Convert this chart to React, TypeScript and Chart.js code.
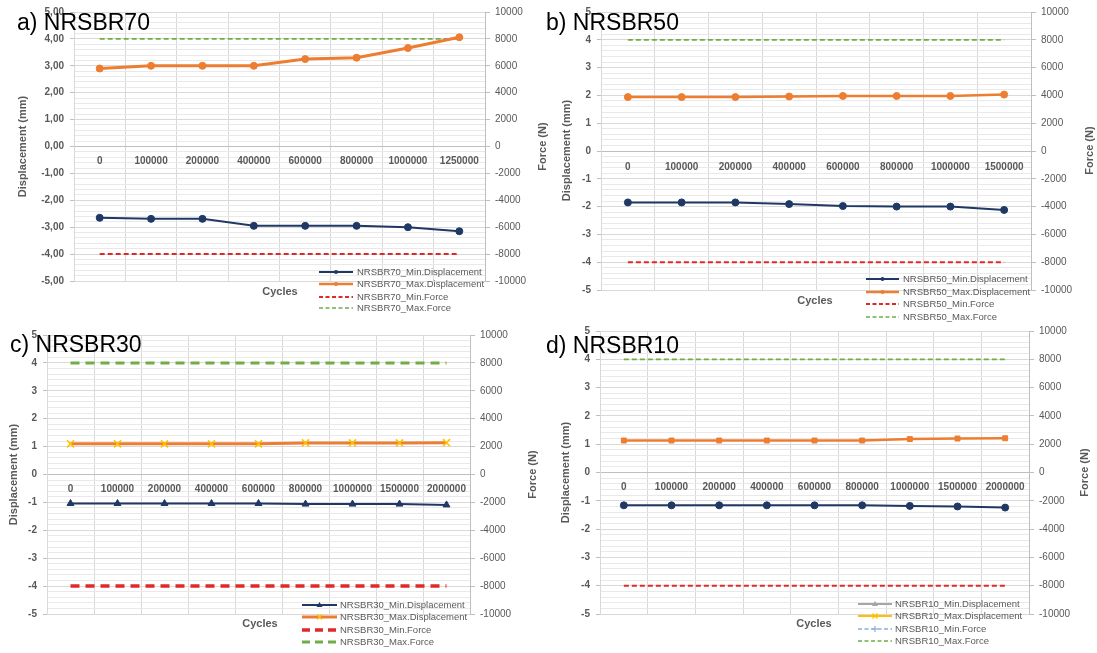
import React, { useEffect, useRef } from 'react';
import { Chart, registerables } from 'chart.js';

Chart.register(...registerables);

// ---------- DATA ----------
const cyclesA = ['0', '100000', '200000', '400000', '600000', '800000', '1000000', '1250000'];
const minDispA = [-2.65, -2.69, -2.69, -2.95, -2.95, -2.95, -3.0, -3.15];
const maxDispA = [2.9, 3.0, 3.0, 3.0, 3.25, 3.3, 3.66, 4.06];
const minForceA = [-8000, -8000, -8000, -8000, -8000, -8000, -8000, -8000];
const maxForceA = [8000, 8000, 8000, 8000, 8000, 8000, 8000, 8000];

const cyclesB = ['0', '100000', '200000', '400000', '600000', '800000', '1000000', '1500000'];
const minDispB = [-1.85, -1.85, -1.85, -1.91, -1.98, -2.0, -2.0, -2.12];
const maxDispB = [1.94, 1.94, 1.94, 1.96, 1.98, 1.98, 1.98, 2.03];
const minForceB = [-8000, -8000, -8000, -8000, -8000, -8000, -8000, -8000];
const maxForceB = [8000, 8000, 8000, 8000, 8000, 8000, 8000, 8000];

const cyclesC = ['0', '100000', '200000', '400000', '600000', '800000', '1000000', '1500000', '2000000'];
const minDispC = [-1.04, -1.04, -1.04, -1.04, -1.04, -1.06, -1.06, -1.06, -1.09];
const maxDispC = [1.1, 1.1, 1.1, 1.1, 1.1, 1.13, 1.13, 1.13, 1.14];
const minForceC = [-8000, -8000, -8000, -8000, -8000, -8000, -8000, -8000, -8000];
const maxForceC = [8000, 8000, 8000, 8000, 8000, 8000, 8000, 8000, 8000];

const cyclesD = ['0', '100000', '200000', '400000', '600000', '800000', '1000000', '1500000', '2000000'];
const minDispD = [-1.16, -1.16, -1.16, -1.16, -1.16, -1.16, -1.18, -1.2, -1.24];
const maxDispD = [1.13, 1.13, 1.13, 1.13, 1.13, 1.13, 1.18, 1.2, 1.21];
const minForceD = [-8000, -8000, -8000, -8000, -8000, -8000, -8000, -8000, -8000];
const maxForceD = [8000, 8000, 8000, 8000, 8000, 8000, 8000, 8000, 8000];

const dispRange = [-5, 5];
const forceRange = [-10000, 10000];

// ---------- STYLE ----------
const W = 1097;
const H = 653;
const FONT = '"Liberation Sans", Arial, sans-serif';
const NAVY = '#203864';
const ORANGE = '#ED7D31';
const GOLD = '#FFC000';
const RED = '#E02A2A';
const GREEN = '#70AD47';
const GRID = '#D9D9D9';
const MINOR = '#E9E9E9';
const AXIS = '#BFBFBF';
const TXT = '#595959';

type Legend = { text: string; color: string; width: number; dash: number[]; marker: string; mcolor: string };

type PanelCfg = {
  name: string;
  title: string;
  labels: string[];
  minDisp: number[];
  maxDisp: number[];
  minForce: number[];
  maxForce: number[];
  plot: { l: number; t: number; r: number; b: number };
  titleX: number;
  titleY: number;
  yTitleX: number;
  fTitleX: number;
  cycles: [number, number];
  leg: { x1: number; x2: number; tx: number; ys: number[] };
  comma: boolean;
  minMarker: string;
  minR: number;
  maxMarker: string;
  maxR: number;
  maxMarkerColor: string;
  maxWidth: number;
  forceWidth: number;
  forceDash: number[];
  legend: Legend[];
  xPad: number;
};

const thinLegend = (n: string): Legend[] => [
  { text: n + '_Min.Displacement', color: NAVY, width: 2, dash: [], marker: 'circle', mcolor: NAVY },
  { text: n + '_Max.Displacement', color: ORANGE, width: 2.5, dash: [], marker: 'circle', mcolor: ORANGE },
  { text: n + '_Min.Force', color: RED, width: 2, dash: [4, 2.5], marker: 'none', mcolor: RED },
  { text: n + '_Max.Force', color: GREEN, width: 1.5, dash: [4, 2.5], marker: 'none', mcolor: GREEN },
];

const panels: PanelCfg[] = [
  {
    name: 'NRSBR70', title: 'a) NRSBR70', labels: cyclesA, minDisp: minDispA, maxDisp: maxDispA,
    minForce: minForceA, maxForce: maxForceA,
    plot: { l: 74, t: 12, r: 485, b: 281 }, titleX: 17, titleY: 30, yTitleX: 23, fTitleX: 543,
    cycles: [280, 292], leg: { x1: 319, x2: 353, tx: 357, ys: [272, 284, 297, 308] }, comma: true,
    minMarker: 'circle', minR: 3.5, maxMarker: 'circle', maxR: 3.5, maxMarkerColor: ORANGE, maxWidth: 3,
    forceWidth: 2, forceDash: [5, 3], legend: thinLegend('NRSBR70'), xPad: 9,
  },
  {
    name: 'NRSBR50', title: 'b) NRSBR50', labels: cyclesB, minDisp: minDispB, maxDisp: maxDispB,
    minForce: minForceB, maxForce: maxForceB,
    plot: { l: 601, t: 11, r: 1031, b: 290 }, titleX: 546, titleY: 30, yTitleX: 567, fTitleX: 1090,
    cycles: [815, 301], leg: { x1: 866, x2: 899, tx: 903, ys: [279, 292, 304, 317] }, comma: false,
    minMarker: 'circle', minR: 3.5, maxMarker: 'circle', maxR: 3.5, maxMarkerColor: ORANGE, maxWidth: 2.5,
    forceWidth: 2, forceDash: [5, 3], legend: thinLegend('NRSBR50'), xPad: 10,
  },
  {
    name: 'NRSBR30', title: 'c) NRSBR30', labels: cyclesC, minDisp: minDispC, maxDisp: maxDispC,
    minForce: minForceC, maxForce: maxForceC,
    plot: { l: 47, t: 335, r: 470, b: 614 }, titleX: 10, titleY: 352, yTitleX: 14, fTitleX: 533,
    cycles: [260, 624], leg: { x1: 302, x2: 337, tx: 340, ys: [605, 617, 630, 642] }, comma: false,
    minMarker: 'triangle', minR: 4, maxMarker: 'crossRot', maxR: 5, maxMarkerColor: GOLD, maxWidth: 3,
    forceWidth: 3.5, forceDash: [9, 6],
    legend: [
      { text: 'NRSBR30_Min.Displacement', color: NAVY, width: 2, dash: [], marker: 'triangle', mcolor: NAVY },
      { text: 'NRSBR30_Max.Displacement', color: ORANGE, width: 3, dash: [], marker: 'cross', mcolor: GOLD },
      { text: 'NRSBR30_Min.Force', color: RED, width: 3.5, dash: [8, 5], marker: 'none', mcolor: RED },
      { text: 'NRSBR30_Max.Force', color: GREEN, width: 3, dash: [8, 5], marker: 'none', mcolor: GREEN },
    ],
    xPad: 9,
  },
  {
    name: 'NRSBR10', title: 'd) NRSBR10', labels: cyclesD, minDisp: minDispD, maxDisp: maxDispD,
    minForce: minForceD, maxForce: maxForceD,
    plot: { l: 600, t: 331, r: 1029, b: 614 }, titleX: 546, titleY: 353, yTitleX: 566, fTitleX: 1085,
    cycles: [814, 624], leg: { x1: 858, x2: 892, tx: 895, ys: [604, 616, 629, 641] }, comma: false,
    minMarker: 'circle', minR: 3.5, maxMarker: 'rect', maxR: 3.5, maxMarkerColor: ORANGE, maxWidth: 2.5,
    forceWidth: 2, forceDash: [5, 3],
    legend: [
      { text: 'NRSBR10_Min.Displacement', color: '#A5A5A5', width: 2, dash: [], marker: 'triangle', mcolor: '#A5A5A5' },
      { text: 'NRSBR10_Max.Displacement', color: GOLD, width: 2, dash: [], marker: 'cross', mcolor: GOLD },
      { text: 'NRSBR10_Min.Force', color: '#8FAADC', width: 1.5, dash: [4, 2.5], marker: 'plus', mcolor: '#8FAADC' },
      { text: 'NRSBR10_Max.Force', color: GREEN, width: 1.5, dash: [4, 2.5], marker: 'none', mcolor: GREEN },
    ],
    xPad: 9,
  },
];

function drawMarker(ctx: CanvasRenderingContext2D, type: string, x: number, y: number, color: string) {
  ctx.save();
  ctx.setLineDash([]);
  ctx.fillStyle = color;
  ctx.strokeStyle = color;
  ctx.lineWidth = 1.2;
  if (type === 'circle') {
    ctx.beginPath();
    ctx.arc(x, y, 2, 0, Math.PI * 2);
    ctx.fill();
  } else if (type === 'triangle') {
    ctx.beginPath();
    ctx.moveTo(x, y - 3);
    ctx.lineTo(x + 3, y + 2);
    ctx.lineTo(x - 3, y + 2);
    ctx.closePath();
    ctx.fill();
  } else if (type === 'cross') {
    ctx.beginPath();
    ctx.moveTo(x - 2.5, y - 2.5);
    ctx.lineTo(x + 2.5, y + 2.5);
    ctx.moveTo(x + 2.5, y - 2.5);
    ctx.lineTo(x - 2.5, y + 2.5);
    ctx.stroke();
  } else if (type === 'plus') {
    ctx.beginPath();
    ctx.moveTo(x - 3, y);
    ctx.lineTo(x + 3, y);
    ctx.moveTo(x, y - 3);
    ctx.lineTo(x, y + 3);
    ctx.stroke();
  }
  ctx.restore();
}

function decorPlugin(cfg: PanelCfg) {
  return {
    id: 'decor_' + cfg.name,
    afterDraw(chart: any) {
      const ctx: CanvasRenderingContext2D = chart.ctx;
      const p = cfg.plot;
      const midY = (p.t + p.b) / 2;
      ctx.save();
      // axis titles
      ctx.fillStyle = TXT;
      ctx.font = 'bold 11px ' + FONT;
      ctx.textAlign = 'center';
      ctx.textBaseline = 'middle';
      for (const [x, t] of [[cfg.yTitleX, 'Displacement (mm)'], [cfg.fTitleX, 'Force (N)']] as [number, string][]) {
        ctx.save();
        ctx.translate(x, midY);
        ctx.rotate(-Math.PI / 2);
        ctx.fillText(t, 0, 0);
        ctx.restore();
      }
      ctx.font = 'bold 11px ' + FONT;
      ctx.fillText('Cycles', cfg.cycles[0], cfg.cycles[1]);
      // legend
      cfg.legend.forEach((e, i) => {
        const y = cfg.leg.ys[i];
        ctx.save();
        ctx.strokeStyle = e.color;
        ctx.lineWidth = e.width;
        ctx.setLineDash(e.dash);
        ctx.beginPath();
        ctx.moveTo(cfg.leg.x1, y);
        ctx.lineTo(cfg.leg.x2, y);
        ctx.stroke();
        ctx.restore();
        if (e.marker !== 'none') drawMarker(ctx, e.marker, (cfg.leg.x1 + cfg.leg.x2) / 2, y, e.mcolor);
        ctx.fillStyle = TXT;
        ctx.font = '9.5px ' + FONT;
        ctx.textAlign = 'left';
        ctx.textBaseline = 'middle';
        ctx.fillText(e.text, cfg.leg.tx, y);
      });
      // panel title
      ctx.fillStyle = '#000000';
      ctx.font = '23px ' + FONT;
      ctx.textAlign = 'left';
      ctx.textBaseline = 'alphabetic';
      ctx.fillText(cfg.title, cfg.titleX, cfg.titleY);
      ctx.restore();
    },
  };
}

const isMajor = (v: number) => Math.abs(v - Math.round(v)) < 1e-6;

function buildConfig(cfg: PanelCfg): any {
  const p = cfg.plot;
  const leftW = Math.min(p.l, 60);
  const rightW = Math.min(W - p.r, 55);
  const tickFontBold = { family: FONT, size: 10, weight: 'bold' };
  return {
    type: 'line',
    data: {
      labels: cfg.labels,
      datasets: [
        {
          label: cfg.name + '_Min.Displacement', data: cfg.minDisp, yAxisID: 'y',
          borderColor: NAVY, backgroundColor: NAVY, borderWidth: 2,
          pointStyle: cfg.minMarker, pointRadius: cfg.minR, pointBackgroundColor: NAVY, pointBorderColor: NAVY,
          pointBorderWidth: 1, tension: 0,
        },
        {
          label: cfg.name + '_Max.Displacement', data: cfg.maxDisp, yAxisID: 'y',
          borderColor: ORANGE, backgroundColor: cfg.maxMarkerColor, borderWidth: cfg.maxWidth,
          pointStyle: cfg.maxMarker, pointRadius: cfg.maxR, pointBackgroundColor: cfg.maxMarkerColor,
          pointBorderColor: cfg.maxMarkerColor, pointBorderWidth: cfg.maxMarker === 'crossRot' ? 1.6 : 1, tension: 0,
        },
        {
          label: cfg.name + '_Min.Force', data: cfg.minForce, yAxisID: 'y2',
          borderColor: RED, borderWidth: cfg.forceWidth, borderDash: cfg.forceDash, pointRadius: 0, tension: 0,
        },
        {
          label: cfg.name + '_Max.Force', data: cfg.maxForce, yAxisID: 'y2',
          borderColor: GREEN, borderWidth: cfg.forceWidth === 2 ? 1.8 : 3, borderDash: cfg.forceDash, pointRadius: 0, tension: 0,
        },
      ],
    },
    options: {
      animation: false,
      responsive: false,
      events: [],
      layout: { padding: { left: p.l - leftW, top: p.t, right: W - p.r - rightW, bottom: H - p.b } },
      plugins: { legend: { display: false }, tooltip: { enabled: false }, title: { display: false } },
      scales: {
        x: {
          type: 'category',
          position: { y: 0 },
          offset: true,
          grid: { offset: true, color: GRID, lineWidth: 1, drawTicks: false },
          border: { display: true, color: AXIS, width: 1 },
          ticks: { autoSkip: false, maxRotation: 0, minRotation: 0, padding: cfg.xPad, color: TXT, font: tickFontBold },
        },
        y: {
          type: 'linear',
          position: 'left',
          min: dispRange[0],
          max: dispRange[1],
          afterFit: (s: any) => { s.width = leftW; },
          ticks: {
            stepSize: 0.2,
            autoSkip: false,
            padding: 6,
            color: TXT,
            font: tickFontBold,
            callback: (v: number) => {
              if (!isMajor(v)) return '';
              const r = Math.round(v);
              return cfg.comma ? r.toFixed(2).replace('.', ',') : String(r);
            },
          },
          grid: {
            color: (c: any) => (c.tick && isMajor(c.tick.value) ? GRID : MINOR),
            tickColor: (c: any) => (c.tick && isMajor(c.tick.value) ? AXIS : 'rgba(0,0,0,0)'),
            tickLength: 4,
          },
          border: { display: true, color: GRID },
        },
        y2: {
          type: 'linear',
          position: 'right',
          min: forceRange[0],
          max: forceRange[1],
          afterFit: (s: any) => { s.width = rightW; },
          ticks: {
            stepSize: 2000,
            autoSkip: false,
            padding: 5,
            color: TXT,
            font: { family: FONT, size: 10 },
            callback: (v: number) => String(v),
          },
          grid: { drawOnChartArea: false, color: AXIS, tickLength: 5 },
          border: { display: true, color: AXIS },
        },
      },
    },
    plugins: [decorPlugin(cfg)],
  };
}

function Panel({ cfg }: { cfg: PanelCfg }) {
  const ref = useRef<HTMLCanvasElement>(null);
  useEffect(() => {
    if (!ref.current) return;
    const chart = new Chart(ref.current, buildConfig(cfg));
    return () => chart.destroy();
  }, [cfg]);
  return (
    <canvas
      ref={ref}
      width={W}
      height={H}
      style={{ position: 'absolute', left: 0, top: 0, width: W, height: H }}
    />
  );
}

export default function App() {
  return (
    <div style={{ position: 'fixed', left: 0, top: 0, width: W, height: H, background: '#ffffff', overflow: 'hidden' }}>
      {panels.map((c) => (
        <Panel key={c.name} cfg={c} />
      ))}
    </div>
  );
}
